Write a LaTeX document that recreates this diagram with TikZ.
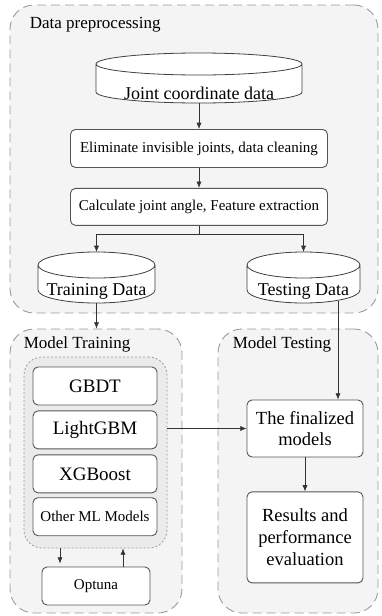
\documentclass[tikz,border=0pt]{standalone}
\usepackage{fontspec}
\setmainfont{Liberation Serif}
\usepackage{xcolor}
\definecolor{trait}{HTML}{555555}
\definecolor{cadregris}{HTML}{9C9C9C}
\definecolor{fondgris}{HTML}{F4F4F4}
\definecolor{fondgrp}{HTML}{EBEBEB}
\usetikzlibrary{positioning,arrows.meta,calc}

\begin{document}
\begin{tikzpicture}[x=1pt,y=-1pt,
  cadre/.style={draw=cadregris,fill=fondgris,line width=0.9pt,dash pattern=on 9pt off 5pt,rounded corners=24pt},
  titre/.style={anchor=north west,inner sep=0pt,font=\fontsize{17}{20}\selectfont},
  boite/.style={draw=trait,fill=white,line width=0.9pt,rounded corners=5pt,align=center,inner sep=2pt},
  base/.style={inner sep=0pt,outer sep=0pt},
  nombase/.style={anchor=base,inner sep=0pt,font=\fontsize{18}{21}\selectfont},
  cyl/.style={draw=black!75,fill=white,line width=0.8pt},
  fl/.style={-{Latex[length=2.2mm,width=1.8mm]},black!80,line width=0.7pt}
]
\useasboundingbox (0,0) rectangle (382,616);

% the three dashed frames
\node[cadre,minimum width=368pt,minimum height=308pt] (pre) at (194,159) {};
\node[cadre,minimum width=172pt,minimum height=284pt] (entr) at (96,471) {};
\node[cadre,minimum width=160pt,minimum height=284pt] (tst) at (298,471) {};
\node[titre] (pretit) at ([xshift=20pt,yshift=-12pt]pre.north west) {Data preprocessing};
\node[titre] (entrtit) at ([xshift=14pt,yshift=-8pt]entr.north west) {Model Training};
\node[titre] (tsttit) at ([xshift=15pt,yshift=-8pt]tst.north west) {Model Testing};

% preprocessing: the data stores are plain boxes, their drums drawn below
\node[base,minimum width=206pt,minimum height=50pt] (jcd) at (199,78) {};
\node[boite,minimum width=257pt,minimum height=38pt,below=26pt of jcd,font=\fontsize{15}{18}\selectfont] (elim) {Eliminate invisible joints, data cleaning};
\node[boite,minimum width=257pt,minimum height=37pt,below=20pt of elim,font=\fontsize{15}{18}\selectfont] (calc) {Calculate joint angle, Feature extraction};
\node[base,minimum width=117pt,minimum height=51pt] (train) at (96.5,277.5) {};
\node[base,minimum width=113pt,minimum height=51pt] (test) at (303.5,277.5) {};

\foreach \cyl/\ry in {jcd/11,train/13,test/13}
  \draw[cyl] let \p1=(\cyl.north west), \p2=(\cyl.south east), \n1={(\x2-\x1)/2} in
    (\x1,\y1-\ry pt) -- (\x1,\y2+\ry pt)
    arc[start angle=180,end angle=360,x radius=\n1,y radius=\ry pt]
    -- (\x2,\y1-\ry pt)
    arc[start angle=0,end angle=360,x radius=\n1,y radius=\ry pt];

\node[nombase] (jcdtxt) at ([yshift=3.5pt]jcd.south) {Joint coordinate data};
\node[nombase] (traintxt) at ([yshift=8pt]train.south) {Training Data};
\node[nombase] (testtxt) at ([yshift=8pt]test.south) {Testing Data};

% training
\node[draw=cadregris,fill=fondgrp,line width=0.8pt,dash pattern=on 2pt off 2pt,rounded corners=18pt,
  minimum width=143pt,minimum height=191pt] (grp) at (95.5,452.5) {};
\node[boite,minimum width=124pt,minimum height=38pt,font=\fontsize{19}{22}\selectfont] (gbdt) at (95,386) {GBDT};
\node[boite,minimum width=124pt,minimum height=38pt,below=5pt of gbdt,font=\fontsize{19}{22}\selectfont] (lgbm) {LightGBM};
\node[boite,minimum width=124pt,minimum height=38pt,below=5pt of lgbm,font=\fontsize{19}{22}\selectfont] (xgb) {XGBoost};
\node[boite,minimum width=124pt,minimum height=38pt,below=4pt of xgb,font=\fontsize{15}{18}\selectfont] (autres) {Other ML Models};
\node[boite,minimum width=108pt,minimum height=38pt,font=\fontsize{15}{18}\selectfont] (opt) at (96,586) {Optuna};

% testing
\node[boite,minimum width=116pt,minimum height=57pt,font=\fontsize{18.5}{21}\selectfont] (fin) at (305,428.5) {The finalized\\models};
\node[boite,minimum width=116pt,minimum height=91pt,below=34pt of fin,font=\fontsize{18.5}{22}\selectfont] (res) {Results and\\performance\\evaluation};

% arrows
\draw[fl] (jcd) -- (elim);
\draw[fl] (elim) -- (calc);
\draw[fl] (calc.south) -- ++(0,9) -| (train.north);
\draw[fl] (calc.south) -- ++(0,9) -| (test.north);
\draw[fl] (train.south) -- (train.south |- entr.north);
\coordinate (tbas) at ([xshift=34.5pt,yshift=2pt]test.south);
\draw[fl] (tbas) -- (tbas |- fin.north);
\draw[fl] (grp.east |- fin.west) -- (fin.west);
\draw[fl] (fin) -- (res);
\draw[fl] ([xshift=-36pt]opt.north |- grp.south) -- ([xshift=-36pt,yshift=3pt]opt.north);
\draw[fl] ([xshift=27pt]opt.north) -- ([xshift=27pt]opt.north |- grp.south);
\end{tikzpicture}
\end{document}
